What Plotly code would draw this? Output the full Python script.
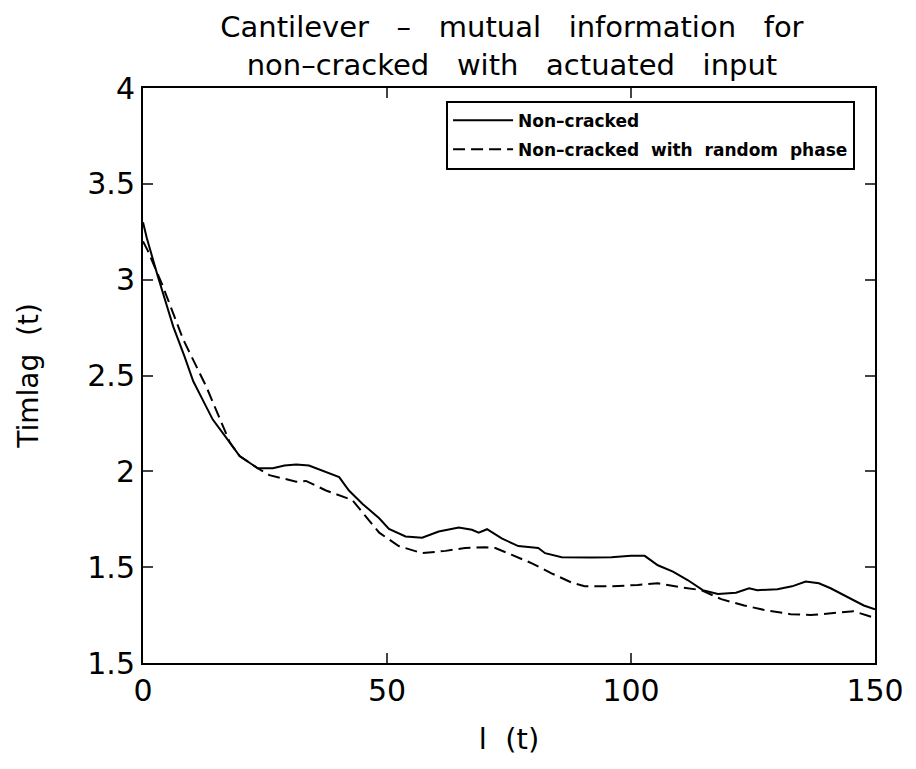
import plotly.graph_objects as go

# Data
x_solid = [0, 0.75, 3, 6.2, 8.5, 10.3, 12.5, 14.3, 17.8, 19.8, 23.5, 26.6, 29, 31.4, 34, 37, 40.2, 42.2,
           45, 48.4, 50.4, 53.8, 57.2, 60.6, 64.7, 67.4, 68.8, 70.5, 73.5, 76.9, 81, 82.4, 85.8, 91.9,
           96, 100, 102.8, 105.5, 108.6, 111.6, 114.7, 117.8, 119.8, 121.5, 124.2, 125.9, 130, 133,
           135.8, 138.5, 140.9, 144.3, 147.7, 150]
y_solid = [3.30, 3.22, 3.02, 2.755, 2.60, 2.47, 2.36, 2.27, 2.15, 2.08, 2.016, 2.016, 2.03, 2.036, 2.03,
           2.00, 1.97, 1.90, 1.83, 1.755, 1.70, 1.66, 1.654, 1.686, 1.707, 1.695, 1.68, 1.698, 1.65,
           1.61, 1.60, 1.573, 1.552, 1.55, 1.552, 1.56, 1.559, 1.51, 1.477, 1.433, 1.38, 1.36, 1.364,
           1.367, 1.39, 1.38, 1.385, 1.40, 1.425, 1.416, 1.39, 1.347, 1.30, 1.28]

x_dashed = [0, 1, 4, 8.2, 13, 17.8, 19.8, 23.5, 25.9, 31.4, 33.4, 37.5, 42.9, 48.4, 52.4, 57.2, 62, 66,
            70.1, 72.2, 75.6, 79.7, 83.7, 87.8, 90.5, 96, 101.4, 105.5, 110.3, 114.4, 118.5, 123.2,
            127.3, 132.7, 136.8, 141.6, 145.6, 150]
y_dashed = [3.20, 3.15, 2.97, 2.69, 2.44, 2.15, 2.08, 2.016, 1.98, 1.946, 1.95, 1.90, 1.85, 1.68, 1.61,
            1.573, 1.585, 1.60, 1.604, 1.60, 1.564, 1.52, 1.468, 1.42, 1.40, 1.40, 1.407, 1.416, 1.395,
            1.38, 1.333, 1.30, 1.277, 1.255, 1.25, 1.263, 1.27, 1.235]

x_ticks = [0, 50, 100, 150]
y_tickvals = [1, 1.5, 2, 2.5, 3, 3.5, 4]
y_ticktext = ["1.5", "1.5", "2", "2.5", "3", "3.5", "4"]

font = "DejaVu Sans"

fig = go.Figure()
fig.add_trace(go.Scatter(x=x_solid, y=y_solid, mode="lines", name="Non–cracked",
                         legendgroup="a",
                         line=dict(color="black", width=2)))
fig.add_trace(go.Scatter(x=x_dashed, y=y_dashed, mode="lines",
                         name="Non–cracked  with  random  phase", legendgroup="b",
                         line=dict(color="black", width=2, dash="12px,6px")))

fig.update_layout(
    width=908, height=761,
    paper_bgcolor="white", plot_bgcolor="white",
    margin=dict(l=135, r=38, t=80, b=106),
    font=dict(family=font, color="black", size=30),
    title=dict(text="Cantilever   –   mutual   information   for<br>non–cracked   with   actuated   input",
               x=0.555, xanchor="center", y=0.962, yanchor="top",
               font=dict(size=29, family=font)),
    showlegend=True,
    legend=dict(x=0.414, y=0.978, xanchor="left", yanchor="top",
                bordercolor="black", borderwidth=2, bgcolor="white",
                font=dict(size=17, family=font, weight="bold"),
                itemwidth=60, tracegroupgap=4),
)
fig.update_xaxes(range=[0, 150], tickvals=x_ticks, ticks="inside", ticklen=10, tickwidth=1.5,
                 showline=True, linecolor="black", linewidth=2, mirror="ticks", showgrid=False,
                 zeroline=False, tickfont=dict(size=30),
                 title=dict(text="l  (t)", font=dict(size=29), standoff=22))
fig.update_yaxes(range=[1, 4], tickvals=y_tickvals, ticktext=y_ticktext, ticks="inside", ticklen=10,
                 tickwidth=1.5, showline=True, linecolor="black", linewidth=2, mirror="ticks",
                 showgrid=False, zeroline=False, tickfont=dict(size=30),
                 title=dict(text="Timlag  (t)", font=dict(size=28), standoff=40))

fig.write_html("out.html")
